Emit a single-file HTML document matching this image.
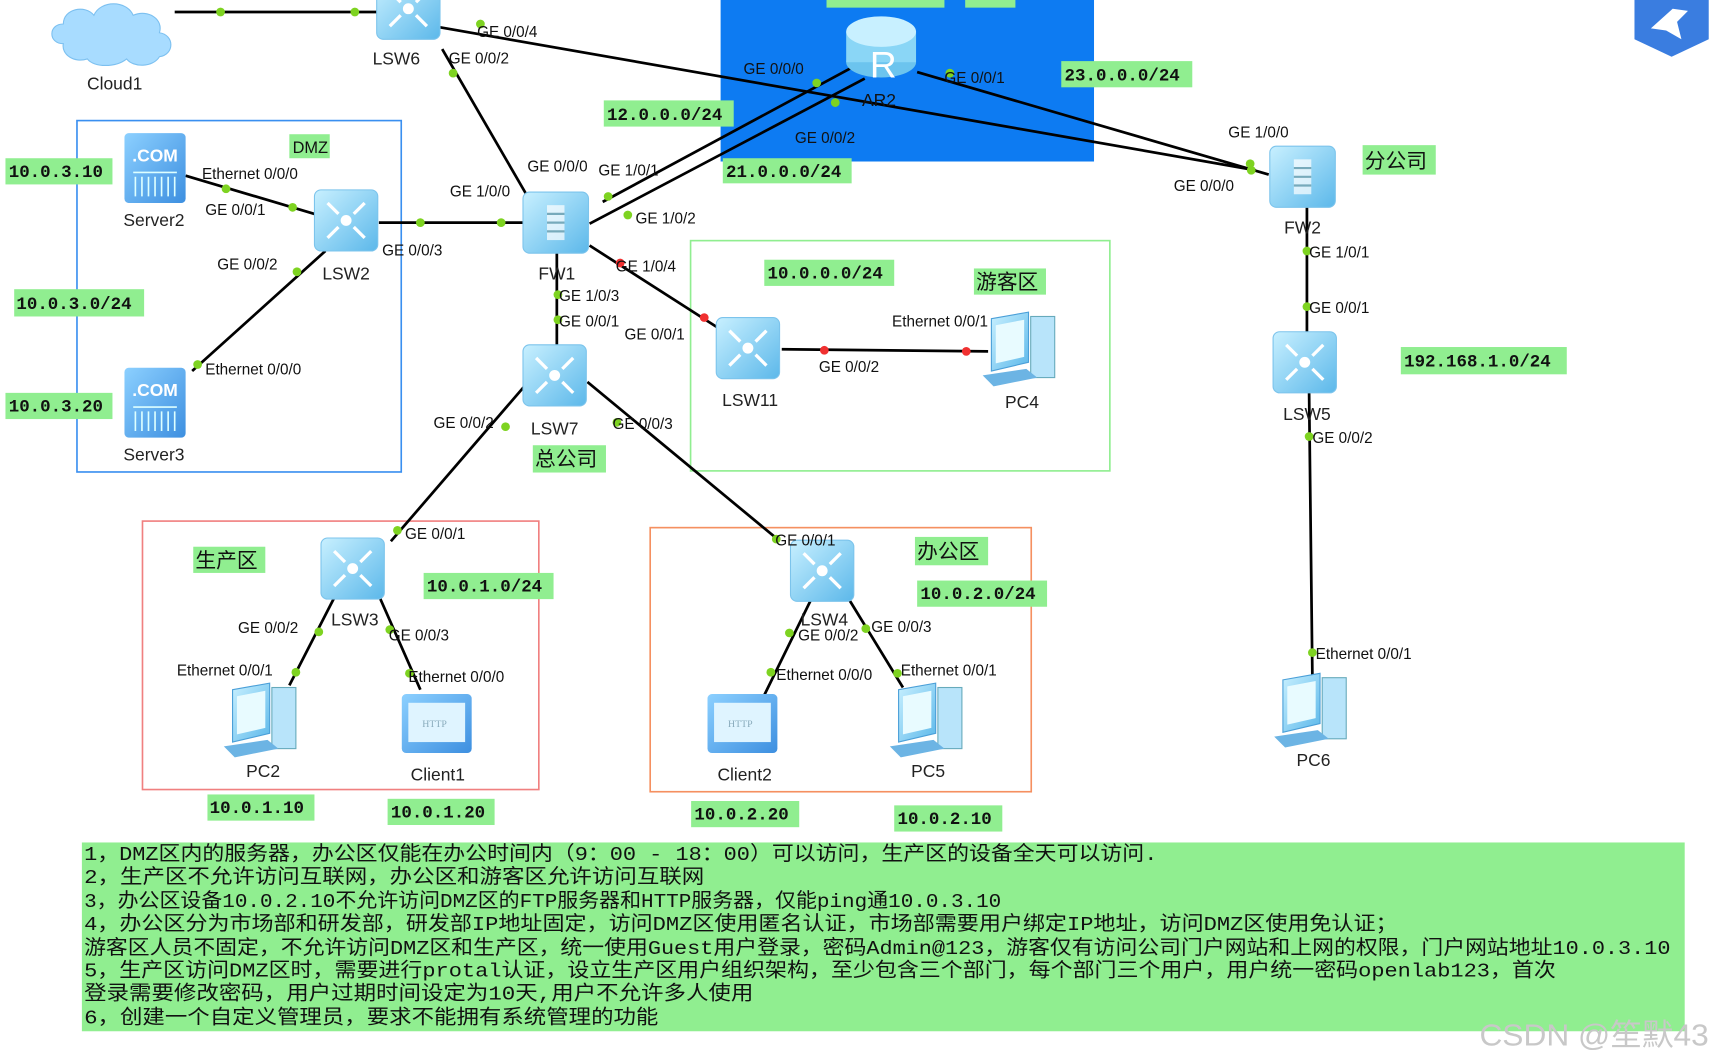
<!DOCTYPE html>
<html><head><meta charset="utf-8"><style>
html,body{margin:0;padding:0;background:#fff;width:1712px;height:1064px;overflow:hidden}
svg{display:block}
.p{font-family:"Liberation Sans",sans-serif;font-size:14px;fill:#111}
.n{font-family:"Liberation Sans",sans-serif;font-size:16px;fill:#222;text-anchor:middle}
.m{font-family:"Liberation Mono",monospace;font-size:16px;fill:#111;font-weight:bold}
.c{font-family:"Liberation Sans","Noto Sans CJK SC",sans-serif;font-size:19px;fill:#111}
.t{font-family:"Liberation Mono","Noto Sans CJK SC",sans-serif;font-size:18px;fill:#111}
</style></head><body>
<svg width="1712" height="1064" viewBox="0 0 1568 975" preserveAspectRatio="none" xmlns="http://www.w3.org/2000/svg">
<defs>
<linearGradient id="g" x1="0" y1="0" x2="1" y2="1"><stop offset="0" stop-color="#c8f0ff"/><stop offset="1" stop-color="#5cb8ea"/></linearGradient>
<linearGradient id="s" x1="0" y1="0" x2="1" y2="1"><stop offset="0" stop-color="#8cd0ff"/><stop offset="1" stop-color="#3d8fe0"/></linearGradient>
<g id="sw"><rect x="0" y="0" width="58" height="56" rx="6" fill="url(#g)" stroke="#7cc4ec"/><circle cx="29" cy="28" r="5" fill="#fff"/><path d="M12 12l10 10M46 12l-10 10M12 44l10-10M46 44l-10-10" stroke="#fff" stroke-width="3"/></g>
<g id="fw"><rect x="0" y="0" width="60" height="56" rx="6" fill="url(#g)" stroke="#7cc4ec"/><rect x="22" y="12" width="16" height="32" fill="#fff" opacity=".7"/><path d="M22 20h16M22 28h16M22 36h16" stroke="#7ab" stroke-width="2"/></g>
<g id="sv"><rect x="0" y="0" width="56" height="64" rx="4" fill="url(#s)"/><text x="28" y="26" font-family="Liberation Sans" font-weight="bold" font-size="16" fill="#fff" text-anchor="middle">.COM</text><path d="M8 36h40M10 40v18M16 40v18M22 40v18M28 40v18M34 40v18M40 40v18M46 40v18" stroke="#dff" stroke-width="1.5"/></g>
<g id="pc"><path d="M8 6l34-6v46l-34 8z" fill="url(#g)" stroke="#4a9fd8"/><path d="M12 12l26-5v34l-26 6z" fill="#e8fbff"/><rect x="44" y="4" width="22" height="56" fill="#b8e4fa" stroke="#6ab"/><path d="M0 58l40-6 10 8-40 8z" fill="#6cb4e4"/></g>
<g id="cl"><rect x="0" y="0" width="64" height="54" rx="4" fill="url(#s)"/><rect x="6" y="8" width="52" height="36" fill="#dff4ff"/><text x="30" y="30" font-family="Liberation Serif" font-size="9" fill="#8ab" text-anchor="middle">HTTP</text></g>
</defs>

<rect x="660" y="0" width="342" height="148" fill="#0d7bf2"/>
<rect x="757" y="0" width="108" height="7" fill="#90ee90"/><rect x="884" y="0" width="46" height="7" fill="#90ee90"/>
<rect x="70.5" y="110.5" width="297" height="322" fill="none" stroke="#3a8ff0" stroke-width="1.5"/>
<rect x="632.5" y="220.5" width="384" height="211" fill="none" stroke="#90ee90" stroke-width="1.5"/>
<rect x="130.5" y="477.5" width="363" height="246" fill="none" stroke="#f08080" stroke-width="1.5"/>
<rect x="595.5" y="483.5" width="349" height="242" fill="none" stroke="#f59060" stroke-width="1.5"/>

<g stroke="#000" stroke-width="2.5" fill="none">
<path d="M160 11H345"/>
<path d="M403 25L1150 156"/>
<path d="M405 45L482 178"/>
<path d="M780 62L552 185"/>
<path d="M792 72L540 205"/>
<path d="M840 66L1162 160"/>
<path d="M1197 190V305M1199 360L1202 620"/>
<path d="M170 161L288 196"/>
<path d="M298 230L176 340"/>
<path d="M347 204H480"/>
<path d="M540 225L657 300"/>
<path d="M510 232V318"/>
<path d="M716 320L905 322"/>
<path d="M488 345L358 496"/>
<path d="M538 350L712 494"/>
<path d="M306 548L265 628M348 548L385 632"/>
<path d="M745 545L700 637M775 545L827 630"/>
</g>
<g fill="#7ed321">
<circle cx="202" cy="11" r="4"/><circle cx="325" cy="11" r="4"/><circle cx="440" cy="22" r="4"/><circle cx="415" cy="67" r="4"/>
<circle cx="748" cy="76" r="4"/><circle cx="765" cy="94" r="4"/><circle cx="870" cy="67" r="4"/><circle cx="557" cy="180" r="4"/><circle cx="575" cy="197" r="4"/>
<circle cx="1145" cy="150" r="4"/><circle cx="1146" cy="156" r="4"/><circle cx="1197" cy="230" r="4"/><circle cx="1197" cy="281" r="4"/><circle cx="1199" cy="400" r="4"/><circle cx="1202" cy="598" r="4"/>
<circle cx="207" cy="173" r="4"/><circle cx="268" cy="190" r="4"/><circle cx="272" cy="249" r="4"/><circle cx="181" cy="334" r="4"/><circle cx="385" cy="204" r="4"/><circle cx="459" cy="204" r="4"/>
<circle cx="511" cy="270" r="4"/><circle cx="511" cy="293" r="4"/><circle cx="463" cy="391" r="4"/><circle cx="364" cy="486" r="4"/><circle cx="565" cy="387" r="4"/><circle cx="711" cy="494" r="4"/>
<circle cx="292" cy="579" r="4"/><circle cx="271" cy="616" r="4"/><circle cx="357" cy="577" r="4"/><circle cx="375" cy="617" r="4"/>
<circle cx="723" cy="580" r="4"/><circle cx="706" cy="616" r="4"/><circle cx="793" cy="576" r="4"/><circle cx="822" cy="617" r="4"/>
</g>
<g fill="#f03030"><circle cx="568" cy="241" r="4"/><circle cx="645" cy="291" r="4"/><circle cx="755" cy="321" r="4"/><circle cx="885" cy="322" r="4"/></g>

<path d="M58 40c-14 0-14-18 0-18 0-14 20-18 28-8 6-14 30-14 36 0 14-6 28 4 24 16 14 2 14 20 0 22-6 10-24 10-30 2-10 8-30 8-36 0-12 4-24-4-22-14z" fill="#a8dcff" stroke="#7cc0f0"/>
<use href="#sw" x="345" y="-20"/>
<g transform="translate(775,15)"><ellipse cx="32" cy="42" rx="32" ry="14" fill="#6cc4ee"/><rect x="0" y="14" width="64" height="28" fill="#8ad6f6"/><ellipse cx="32" cy="14" rx="32" ry="14" fill="#c8f0ff"/><text x="34" y="56" font-family="Liberation Sans" font-size="34" fill="#fff" text-anchor="middle">R</text></g>
<use href="#fw" x="1163" y="134"/><use href="#sw" x="1166" y="304"/><use href="#pc" x="1167" y="617"/>
<use href="#sv" x="114" y="122"/><use href="#sv" x="114" y="337"/>
<use href="#sw" x="288" y="174"/><use href="#fw" x="479" y="176"/><use href="#sw" x="479" y="316"/>
<use href="#sw" x="656" y="291"/><use href="#pc" x="900" y="286"/>
<use href="#sw" x="294" y="493"/><use href="#sw" x="724" y="495"/>
<use href="#pc" x="205" y="626"/><use href="#cl" x="368" y="636"/><use href="#cl" x="648" y="636"/><use href="#pc" x="815" y="626"/>
<path d="M1497 0h68v36l-34 16-34-16z" fill="#3a7de0"/><path d="M1512 26l20-18 14 2-10 10 4 16-14-8z" fill="#fff"/>

<g class="n">
<text x="105" y="82">Cloud1</text><text x="363" y="59">LSW6</text><text x="805" y="97" fill="#111">AR2</text>
<text x="1193" y="214">FW2</text><text x="1197" y="385">LSW5</text><text x="1203" y="702">PC6</text>
<text x="141" y="207">Server2</text><text x="141" y="422">Server3</text><text x="317" y="256">LSW2</text><text x="510" y="256">FW1</text>
<text x="508" y="398">LSW7</text><text x="687" y="372">LSW11</text><text x="936" y="374">PC4</text>
<text x="325" y="573">LSW3</text><text x="755" y="573">LSW4</text><text x="241" y="712">PC2</text><text x="401" y="715">Client1</text>
<text x="682" y="715">Client2</text><text x="850" y="712">PC5</text>
</g>

<g class="p">
<text x="437" y="34">GE 0/0/4</text><text x="411" y="58">GE 0/0/2</text>
<text x="681" y="68">GE 0/0/0</text><text x="728" y="131">GE 0/0/2</text><text x="865" y="76">GE 0/0/1</text>
<text x="1125" y="126">GE 1/0/0</text><text x="1075" y="175">GE 0/0/0</text><text x="1199" y="236">GE 1/0/1</text><text x="1199" y="287">GE 0/0/1</text>
<text x="1202" y="406">GE 0/0/2</text><text x="1205" y="604">Ethernet 0/0/1</text>
<text x="185" y="164">Ethernet 0/0/0</text><text x="188" y="197">GE 0/0/1</text><text x="199" y="247">GE 0/0/2</text><text x="188" y="343">Ethernet 0/0/0</text>
<text x="350" y="234">GE 0/0/3</text><text x="412" y="180">GE 1/0/0</text><text x="483" y="157">GE 0/0/0</text><text x="548" y="161">GE 1/0/1</text>
<text x="582" y="205">GE 1/0/2</text><text x="564" y="249">GE 1/0/4</text><text x="512" y="276">GE 1/0/3</text><text x="512" y="299">GE 0/0/1</text>
<text x="572" y="311">GE 0/0/1</text><text x="750" y="341">GE 0/0/2</text><text x="817" y="299">Ethernet 0/0/1</text>
<text x="397" y="392">GE 0/0/2</text><text x="561" y="393">GE 0/0/3</text><text x="371" y="494">GE 0/0/1</text><text x="710" y="500">GE 0/0/1</text>
<text x="218" y="580">GE 0/0/2</text><text x="356" y="587">GE 0/0/3</text><text x="162" y="619">Ethernet 0/0/1</text><text x="374" y="625">Ethernet 0/0/0</text>
<text x="731" y="587">GE 0/0/2</text><text x="798" y="579">GE 0/0/3</text><text x="711" y="623">Ethernet 0/0/0</text><text x="825" y="619">Ethernet 0/0/1</text>
</g>

<g fill="#90ee90">
<rect x="553" y="92" width="119" height="24"/><rect x="972" y="56" width="120" height="24"/><rect x="662" y="145" width="118" height="23"/>
<rect x="1248" y="133" width="67" height="27"/><rect x="1283" y="318" width="152" height="25"/>
<rect x="265" y="123" width="37" height="22"/><rect x="5" y="145" width="98" height="24"/><rect x="13" y="265" width="119" height="25"/><rect x="5" y="360" width="98" height="24"/>
<rect x="700" y="238" width="119" height="24"/><rect x="892" y="246" width="66" height="24"/><rect x="488" y="408" width="67" height="25"/>
<rect x="177" y="501" width="66" height="24"/><rect x="388" y="525" width="119" height="24"/><rect x="838" y="492" width="67" height="26"/><rect x="840" y="532" width="119" height="24"/>
<rect x="190" y="728" width="98" height="24"/><rect x="355" y="732" width="98" height="24"/><rect x="633" y="734" width="99" height="24"/><rect x="819" y="738" width="99" height="24"/>
<rect x="75" y="772" width="1468" height="173"/>
</g>
<g class="m">
<text x="556" y="110">12.0.0.0/24</text><text x="975" y="74">23.0.0.0/24</text><text x="665" y="162">21.0.0.0/24</text><text x="1286" y="336">192.168.1.0/24</text>
<text x="8" y="162">10.0.3.10</text><text x="15" y="283">10.0.3.0/24</text><text x="8" y="377">10.0.3.20</text><text x="703" y="255">10.0.0.0/24</text>
<text x="391" y="542">10.0.1.0/24</text><text x="843" y="549">10.0.2.0/24</text><text x="192" y="745">10.0.1.10</text><text x="358" y="749">10.0.1.20</text>
<text x="636" y="751">10.0.2.20</text><text x="822" y="755">10.0.2.10</text>
</g>
<text x="268" y="140" font-family="Liberation Sans" font-size="15" fill="#111">DMZ</text>
<g class="c">
<text x="1250" y="154">分公司</text><text x="894" y="265">游客区</text><text x="490" y="427">总公司</text><text x="179" y="520">生产区</text><text x="840" y="512">办公区</text>
</g>
<g class="t">
<text x="77" y="788" textLength="983" lengthAdjust="spacingAndGlyphs">1，DMZ区内的服务器，办公区仅能在办公时间内（9：00 - 18：00）可以访问，生产区的设备全天可以访问.</text>
<text x="77" y="809" textLength="568" lengthAdjust="spacingAndGlyphs">2，生产区不允许访问互联网，办公区和游客区允许访问互联网</text>
<text x="77" y="831" textLength="840" lengthAdjust="spacingAndGlyphs">3，办公区设备10.0.2.10不允许访问DMZ区的FTP服务器和HTTP服务器，仅能ping通10.0.3.10</text>
<text x="77" y="852" textLength="1203" lengthAdjust="spacingAndGlyphs">4，办公区分为市场部和研发部，研发部IP地址固定，访问DMZ区使用匿名认证，市场部需要用户绑定IP地址，访问DMZ区使用免认证；</text>
<text x="77" y="874" textLength="1453" lengthAdjust="spacingAndGlyphs">游客区人员不固定，不允许访问DMZ区和生产区，统一使用Guest用户登录，密码Admin@123，游客仅有访问公司门户网站和上网的权限，门户网站地址10.0.3.10</text>
<text x="77" y="895" textLength="1348" lengthAdjust="spacingAndGlyphs">5，生产区访问DMZ区时，需要进行protal认证，设立生产区用户组织架构，至少包含三个部门，每个部门三个用户，用户统一密码openlab123，首次</text>
<text x="77" y="916" textLength="613" lengthAdjust="spacingAndGlyphs">登录需要修改密码，用户过期时间设定为10天,用户不允许多人使用</text>
<text x="77" y="938" textLength="526" lengthAdjust="spacingAndGlyphs">6，创建一个自定义管理员，要求不能拥有系统管理的功能</text>
</g>
<text x="1355" y="958" font-family="Liberation Sans,Noto Sans CJK SC,sans-serif" font-size="28" fill="#c8c8c8" textLength="210" lengthAdjust="spacingAndGlyphs">CSDN @笙默43</text>
</svg>
</body></html>
